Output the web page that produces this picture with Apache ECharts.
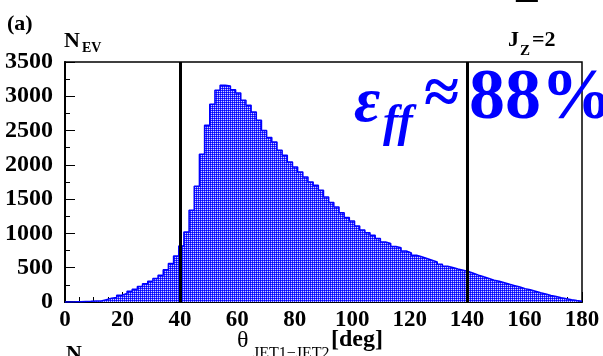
<!DOCTYPE html>
<html><head><meta charset="utf-8">
<script src="https://cdn.jsdelivr.net/npm/echarts@6/dist/echarts.min.js"></script>
<style>html,body{margin:0;padding:0;background:#fff}#c{width:603px;height:356px}</style>
</head><body><div id="c"></div>
<script>
// Histogram: 100 bins of 1.8 deg over 0..180
const binWidth = 1.8;
const counts = [
  0, 2, 5, 8, 10, 13, 15, 35, 55, 65,
  98, 125, 155, 185, 225, 265, 302, 341, 389, 470,
  560, 671, 817, 1021, 1337, 1687, 2154, 2577, 2883, 3087,
  3160, 3150, 3097, 3048, 2941, 2868, 2771, 2650, 2500, 2400,
  2333, 2212, 2139, 2042, 1969, 1896, 1823, 1750, 1702, 1629,
  1530, 1450, 1385, 1300, 1231, 1180, 1110, 1050, 1010, 973,
  925, 875, 852, 810, 790, 744, 715, 681, 660, 635,
  610, 585, 552, 522, 502, 480, 465, 445, 420, 392,
  368, 345, 318, 302, 280, 258, 239, 219, 195, 178,
  158, 135, 118, 96, 80, 62, 47, 33, 22, 12
];
const cutLines = [40, 140];
const xTicks = { min: 0, max: 180, interval: 20 };
const yTicks = { min: 0, max: 3500, interval: 500 };

const stepData = counts.map((v, i) => [i * binWidth, v]);
stepData.push([counts.length * binWidth, counts[counts.length - 1]]);

// crosshatch pattern
const pc = document.createElement('canvas');
pc.width = 4; pc.height = 4;
const pctx = pc.getContext('2d');
for (let x = 0; x < 4; x++) for (let y = 0; y < 4; y++) {
  let c;
  if (x % 2 === 1 && y % 2 === 1) c = '#d0d0ff';
  else if ((x + y) % 2 === 1) c = '#3030ff';
  else c = '#0000ff';
  pctx.fillStyle = c; pctx.fillRect(x, y, 1, 1);
}

const serif = '"Liberation Serif", "DejaVu Serif", serif';
const chart = echarts.init(document.getElementById('c'), null, { renderer: 'canvas' });

function txt(x, y, s, size, opts) {
  opts = opts || {};
  return {
    type: 'text', x: x, y: y, silent: true, z: 100,
    style: {
      text: s, fill: opts.color || '#000',
      font: (opts.italic ? 'italic ' : '') + (opts.bold === false ? 'normal ' : 'bold ') + size + 'px ' + serif,
      textAlign: opts.align || 'left', textVerticalAlign: opts.valign || 'middle'
    }
  };
}

chart.setOption({
  animation: false,
  backgroundColor: '#fff',
  grid: { left: 65, right: 21, top: 62, bottom: 54, show: true, borderColor: '#000', borderWidth: 1.5, backgroundColor: 'transparent' },
  xAxis: {
    type: 'value', min: xTicks.min, max: xTicks.max, interval: xTicks.interval,
    axisLine: { show: true, onZero: false, lineStyle: { color: '#000', width: 2 } },
    axisTick: { show: true, inside: true, length: 10, lineStyle: { color: '#000', width: 1 } },
    minorTick: { show: true, splitNumber: 4, length: 5, lineStyle: { color: '#000', width: 1 } },
    splitLine: { show: false },
    axisLabel: { color: '#000', fontFamily: serif, fontWeight: 'bold', fontSize: 23, margin: 7, formatter: v => String(v) }
  },
  yAxis: {
    type: 'value', min: yTicks.min, max: yTicks.max, interval: yTicks.interval,
    axisLine: { show: true, onZero: false, lineStyle: { color: '#000', width: 2 } },
    axisTick: { show: true, inside: true, length: 10, lineStyle: { color: '#000', width: 1 } },
    minorTick: { show: true, splitNumber: 2, length: 5, lineStyle: { color: '#000', width: 1 } },
    splitLine: { show: false },
    axisLabel: { color: '#000', fontFamily: serif, fontWeight: 'bold', fontSize: 24, margin: 12, formatter: v => String(v) }
  },
  series: [{
    type: 'line', step: 'end', data: stepData, symbol: 'none', silent: true,
    lineStyle: { color: '#0000ff', width: 1.5 },
    areaStyle: { color: { image: pc, repeat: 'repeat' }, opacity: 1, origin: 'start' },
    markLine: {
      silent: true, symbol: 'none', label: { show: false },
      lineStyle: { color: '#000', width: 3, type: 'solid' },
      data: cutLines.map(v => ({ xAxis: v }))
    },
    z: 2
  }],
  graphic: [
    txt(7, 24, '(a)', 22),
    txt(64, 41, 'N', 22),
    txt(82, 48, 'EV', 14),
    txt(508, 40, 'J', 22),
    txt(520, 51, 'Z', 15),
    txt(532, 40, '=2', 22),
    txt(354, 104, 'ε', 64, { italic: true, color: '#0000ff' }),
    txt(383, 124, 'ff', 46, { italic: true, color: '#0000ff' }),
    txt(424, 96, '≈', 64, { color: '#0000ff' }),
    txt(469, 99, '88%', 72, { color: '#0000ff' }),
    txt(237, 341, 'θ', 24, { bold: false }),
    txt(253, 354, 'JET1−JET2', 16, { bold: false }),
    txt(331, 340, '[deg]', 24),
    txt(66, 354, 'N', 22),
    txt(526, -14, '1', 60, { align: 'center', valign: 'middle' })
  ]
});
</script></body></html>
